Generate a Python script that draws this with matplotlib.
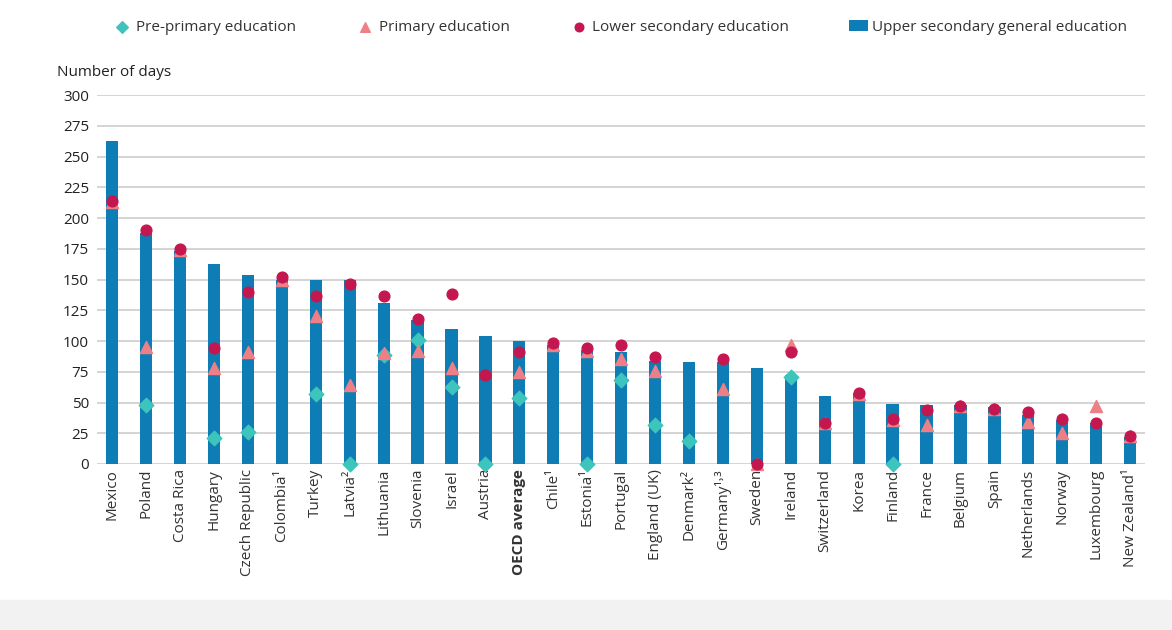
import matplotlib; matplotlib.use("Agg")
import matplotlib.pyplot as plt
from matplotlib.patches import Rectangle
import numpy as np

plt.rcParams["font.family"] = ["Open Sans", "DejaVu Sans"]

countries = ["Mexico", "Poland", "Costa Rica", "Hungary", "Czech Republic", "Colombia¹",
             "Turkey", "Latvia²", "Lithuania", "Slovenia", "Israel", "Austria",
             "OECD average", "Chile¹", "Estonia¹", "Portugal", "England (UK)", "Denmark²",
             "Germany¹˒³", "Sweden", "Ireland", "Switzerland", "Korea", "Finland",
             "France", "Belgium", "Spain", "Netherlands", "Norway", "Luxembourg",
             "New Zealand¹"]

nan = np.nan
upper_sec = [263, 188, 173, 163, 154, 150, 150, 150, 131, 117, 110, 104,
             100, 97, 93, 91, 84, 83, 83, 78, 72, 55, 58, 49,
             48, 48, 46, 40, 36, 33, 22]
lower_sec = [214, 190, 175, 94, 140, 152, 137, 146, 137, 118, 138, 72,
             91, 98, 94, 97, 87, nan, 85, 0, 91, 33, 58, 37,
             44, 47, 45, 42, 37, 33, 23]
primary = [213, 95, 174, 78, 91, 150, 120, 64, 90, 92, 78, nan,
           75, 97, 92, 85, 76, nan, 61, 0, 97, 33, 57, 36,
           32, 47, 45, 34, 25, 47, 23]
pre_primary = [nan, 48, nan, 21, 26, nan, 57, 0, 89, 101, 63, 0,
               54, nan, 0, 68, 32, 19, nan, nan, 71, nan, nan, 0,
               nan, nan, nan, nan, nan, nan, nan]

C_BAR = "#0f7db5"
C_PRE = "#3cc4bd"
C_PRI = "#ef7f86"
C_LOW = "#c4174f"
FS = 11

fig = plt.figure(figsize=(11.72, 6.3), dpi=100)
fig.patches.append(Rectangle((0, 0), 1, 0.048, transform=fig.transFigure,
                             color="#f2f2f3", zorder=-10))
ax = fig.add_axes([0.083, 0.2635, 0.894, 0.5855])

x = np.arange(len(countries))
ax.bar(x, upper_sec, width=0.36, color=C_BAR, zorder=2,
       label="Upper secondary general education")
ax.scatter(x, pre_primary, marker="D", s=55, color=C_PRE, zorder=3, clip_on=False,
           label="Pre-primary education")
ax.scatter(x, primary, marker="^", s=75, color=C_PRI, zorder=4, clip_on=False,
           label="Primary education")
ax.scatter(x, lower_sec, marker="o", s=60, color=C_LOW, zorder=5, clip_on=False,
           label="Lower secondary education")

ax.set_ylim(0, 300)
ax.set_xlim(-0.44, len(countries) - 0.56)
ax.set_yticks(np.arange(0, 301, 25))
ax.yaxis.grid(True, color="#d4d4d4", linewidth=1.4, zorder=0)
ax.set_axisbelow(True)
for s in ax.spines.values():
    s.set_visible(False)
ax.tick_params(axis="both", length=0, labelsize=FS, colors="#222222")
ax.tick_params(axis="y", pad=6)
ax.set_xticks(x)
ax.set_xticklabels(countries, rotation=90, fontsize=FS, color="#333333")
for lbl in ax.get_xticklabels():
    if lbl.get_text() == "OECD average":
        lbl.set_fontweight("bold")

fig.text(0.049, 0.88, "Number of days", fontsize=FS, color="#222222")

handles, labels = ax.get_legend_handles_labels()
want = ["Pre-primary education", "Primary education",
        "Lower secondary education", "Upper secondary general education"]
order = [labels.index(w) for w in want]
leg = fig.legend([handles[i] for i in order], [labels[i] for i in order],
                 loc="lower left", bbox_to_anchor=(0.091, 0.935, 0.876, 0.06),
                 mode="expand", ncol=4, frameon=False, fontsize=FS,
                 handletextpad=0.3, handlelength=1.2, borderaxespad=0,
                 markerscale=0.8)
for t in leg.get_texts():
    t.set_color("#333333")

fig.savefig("out.png", dpi=100)
